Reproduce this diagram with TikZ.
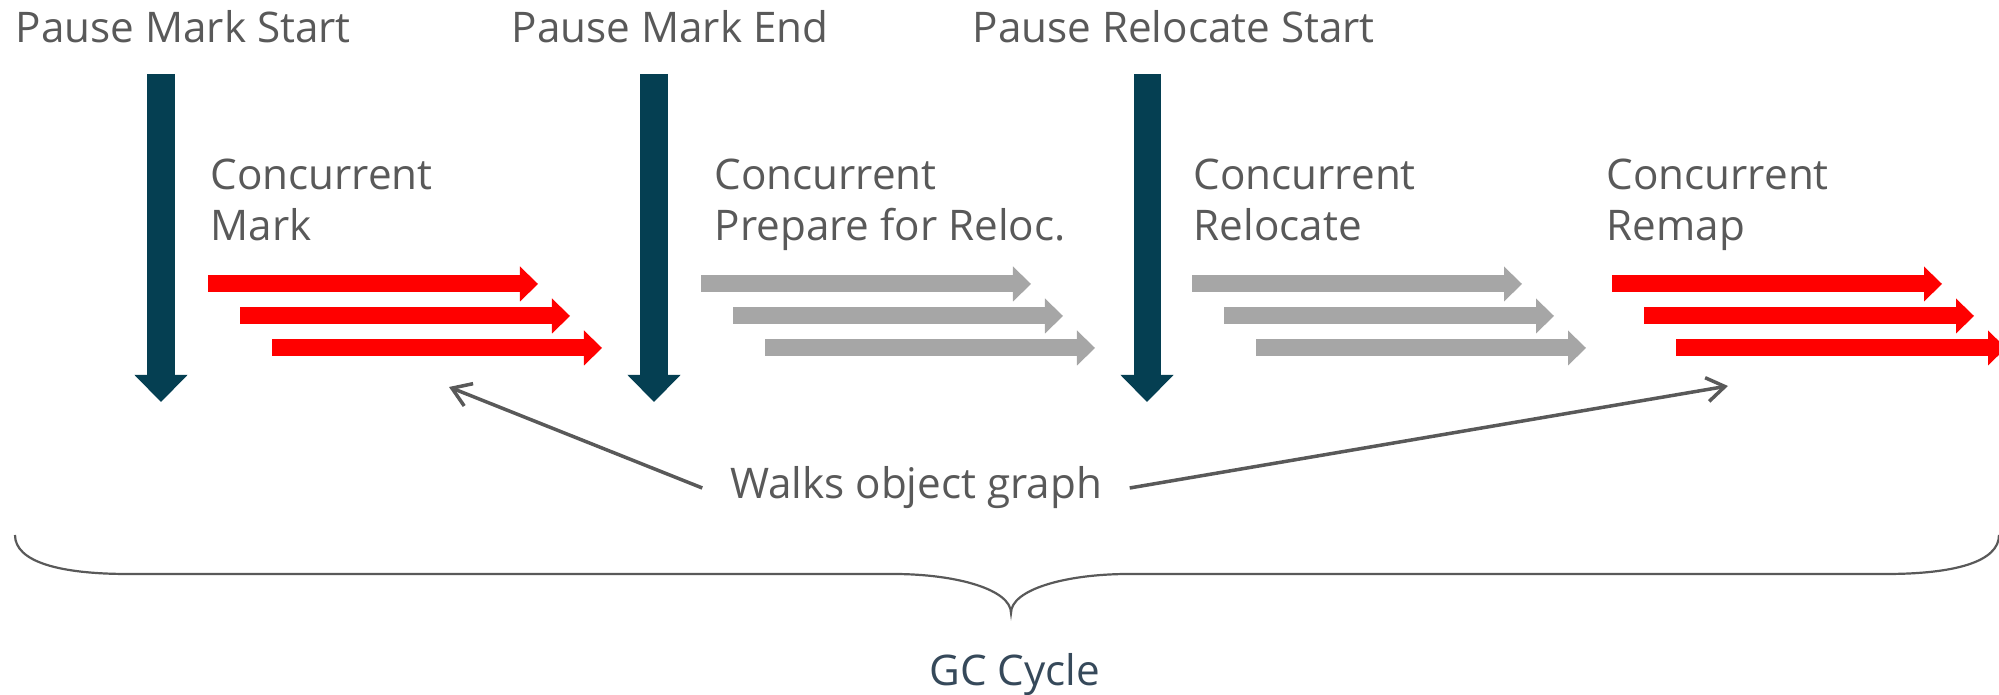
\documentclass[tikz,border=0pt]{standalone}
\usepackage{fontspec}
\setmainfont{Open Sans}
\usepackage{tikz}
\usetikzlibrary{positioning, arrows.meta}

\definecolor{pausecol}{HTML}{053F52}
\definecolor{textcol}{HTML}{595959}
\definecolor{cyclecol}{HTML}{36495A}
\definecolor{walkcol}{HTML}{A6A6A6}
\definecolor{remapcol}{HTML}{FF0000}

\begin{document}
\begin{tikzpicture}[x=0.01cm, y=-0.01cm,
        label/.style={text=textcol, font=\fontsize{12}{14.7}\selectfont, inner sep=0pt, align=left, anchor=base west},
        pausearrow/.style={pausecol, line width=0.27cm, -{Triangle[length=0.27cm, width=0.53cm, line width=0pt]}},
        fatarrow/.style={line width=0.17cm, -{Triangle[length=0.18cm, width=0.35cm, line width=0pt]}},
        pointer/.style={textcol, line width=0.035cm, -{Straight Barb[length=0.18cm, width=0.24cm]}}
    ]
    \useasboundingbox (0,0) rectangle (1999,695);

    % pauses
    \foreach \x in {161,654,1147}
        \draw[pausearrow] (\x,74) -- (\x,402);
    \node[label] (pms) at (15,43) {Pause Mark Start};
    \node[label] (pme) at (511,43) {Pause Mark End};
    \node[label] (prs) at (972,43) {Pause Relocate Start};

    % concurrent phases (base = last line)
    \node[label] (cmark) at (210,241) {Concurrent\\Mark};
    \node[label] (cprep) at (714,241) {Concurrent\\Prepare for Reloc.};
    \node[label] (creloc) at (1193,241) {Concurrent\\Relocate};
    \node[label] (cremap) at (1606,241) {Concurrent\\Remap};
    \foreach \x/\c in {208/remapcol, 701/walkcol, 1192/walkcol, 1612/remapcol}
        \foreach \i in {0,1,2}
            \draw[fatarrow, \c] (\x+32*\i, 284+32*\i) -- ++(330,0);

    % object graph
    \node[label, anchor=center, inner xsep=0.27cm] (walks) at (916,488) {Walks object graph};
    \coordinate (marktip) at (449,387);
    \coordinate (remaptip) at (1728,386);
    \draw[pointer] (walks.west) -- (marktip);
    \draw[pointer] (walks.east) -- (remaptip);

    % cycle brace
    \draw[textcol, line width=0.022cm] (15,535) .. controls (15,562) and (60,574) .. (128,574) -- (893,574)
        .. controls (958,574) and (1011,590) .. (1011,613)
        .. controls (1011,590) and (1064,574) .. (1129,574) -- (1886,574)
        .. controls (1954,574) and (1999,562) .. (1999,535);
    \node[label, text=cyclecol, anchor=base] (cycle) at (1015,686) {GC Cycle};
\end{tikzpicture}
\end{document}
